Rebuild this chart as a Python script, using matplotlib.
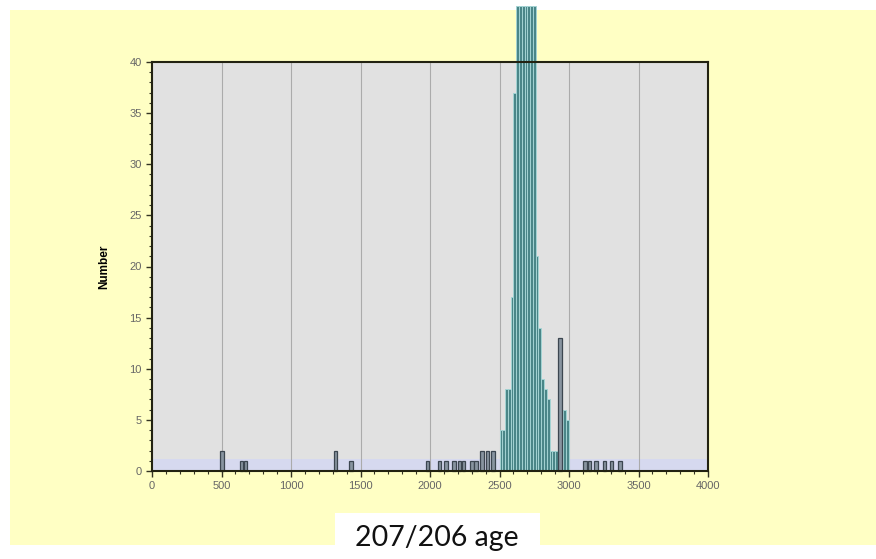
import matplotlib
matplotlib.use("Agg")
import matplotlib.pyplot as plt
from matplotlib.patches import Rectangle
from matplotlib.ticker import MultipleLocator

# ---- data (Ma bin centres and counts) ----
main_centers = [2510, 2530, 2550, 2570, 2590, 2610, 2630, 2650, 2670, 2690,
                2710, 2730, 2750, 2770, 2790, 2810, 2830, 2850, 2870, 2890,
                2910, 2970, 2990]
main_counts = [4, 4, 8, 8, 17, 37, 45.5, 45.5, 45.5, 45.5,
               45.5, 45.5, 45.5, 21, 14, 9, 8, 7, 2, 2,
               2, 6, 5]

other_centers = [505, 645, 672, 1320, 1432, 1982, 2068, 2115, 2172, 2212,
                 2240, 2300, 2330, 2375, 2415, 2455, 2935,
                 3117, 3147, 3195, 3255, 3305, 3367]
other_counts = [2, 1, 1, 2, 1, 1, 1, 1, 1, 1,
                1, 1, 1, 2, 2, 2, 13,
                1, 1, 1, 1, 1, 1]

x_ticks = [0, 500, 1000, 1500, 2000, 2500, 3000, 3500, 4000]
y_ticks = [0, 5, 10, 15, 20, 25, 30, 35, 40]
y_label = "Number"
caption = "207/206 age"

# ---- figure ----
fig = plt.figure(figsize=(8.76, 5.59), dpi=100)
fig.patch.set_facecolor("white")
W, H = 876, 559
fig.patches.append(Rectangle((10 / W, 1 - 545 / H), 866 / W, (545 - 10) / H,
                             transform=fig.transFigure, facecolor="#ffffc4",
                             edgecolor="none", zorder=0))

ax = fig.add_axes([152 / W, 1 - 471 / H, (708 - 152) / W, (471 - 62) / H])
ax.set_zorder(2)
ax.set_facecolor("#e1e1e1")
ax.set_xlim(0, 4000)
ax.set_ylim(0, 40)

ax.axhspan(0, 1.2, color="#d6d9ef", zorder=0.5, lw=0)
for xv in x_ticks[1:-1]:
    ax.axvline(xv, color="#ababab", lw=0.8, zorder=0.8)

ax.bar(main_centers, main_counts, width=20, color="#4a8688",
       edgecolor="#a3d3d3", linewidth=0.7, zorder=3, clip_on=False)
ax.bar(other_centers, other_counts, width=26, color="#8894a0",
       edgecolor="#3c4650", linewidth=0.9, zorder=3.5, clip_on=False)

ax.set_xticks(x_ticks)
ax.set_yticks(y_ticks)
ax.xaxis.set_minor_locator(MultipleLocator(100))
ax.yaxis.set_minor_locator(MultipleLocator(1))
ax.tick_params(axis="both", which="major", length=4, width=1, color="#333322",
               labelsize=8, labelcolor="#666666", direction="out")
ax.tick_params(axis="both", which="minor", length=2, width=0.8, color="#333322",
               direction="out")
for lab in ax.get_xticklabels() + ax.get_yticklabels():
    lab.set_fontfamily("Liberation Sans")

for sp in ax.spines.values():
    sp.set_color("#222211")
    sp.set_linewidth(1.5)
    sp.set_zorder(4)

ax.set_ylabel(y_label, fontsize=8.5, fontweight="bold", family="Liberation Sans",
              labelpad=14)

# caption in white box
fig.patches.append(Rectangle((335 / W, 0), (540 - 335) / W, (559 - 513) / H,
                             transform=fig.transFigure, facecolor="white",
                             edgecolor="none", zorder=5))
fig.text(437 / W, 1 - 538 / H, caption, ha="center", va="center",
         fontsize=20.5, family="Lato", color="#111111", zorder=6)

fig.savefig("out.png", dpi=100, facecolor=fig.get_facecolor())
